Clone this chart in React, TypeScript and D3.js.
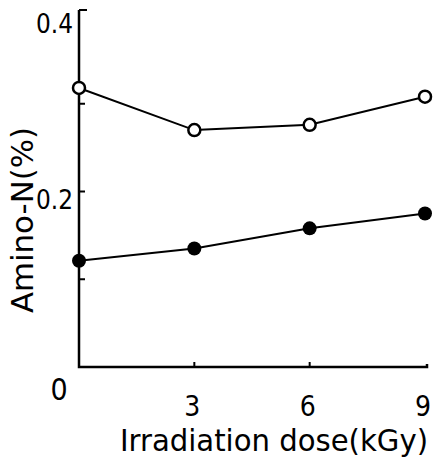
import React from "react";
import * as d3 from "d3";

const doses = [0, 3, 6, 9];
const openSeries = [0.318, 0.27, 0.276, 0.308];
const filledSeries = [0.121, 0.135, 0.158, 0.175];
const yTickLabels = ["0.2", "0.4"];
const yTickValues = [0.2, 0.4];
const yMinorTicks = [0.1, 0.3];
const xTickValues = [3, 6, 9];
const xTitle = "Irradiation dose(kGy)";
const yTitle = "Amino-N(%)";

const W = 434;
const H = 461;
const FONT = "'DejaVu Sans Condensed', 'DejaVu Sans', sans-serif";

export default function App() {
  const x = d3.scaleLinear().domain([0, 9]).range([79, 425]);
  const y = d3.scaleLinear().domain([0, 0.4]).range([367, 16]);
  const line = d3
    .line<number>()
    .x((_, i) => x(doses[i]))
    .y((d) => y(d));

  return (
    <svg
      width={W}
      height={H}
      style={{ position: "absolute", left: 0, top: 0, background: "#fff" }}
    >
      {/* axes */}
      <path
        d={`M${x(0)},${y(0.4) - 6} L${x(0)},${y(0)} L${x(9) + 2},${y(0)} L${x(9) + 2},${y(0) - 3}`}
        fill="none"
        stroke="#000"
        strokeWidth={2.5}
      />
      <line x1={x(0)} x2={x(0) + 8} y1={y(0.4) - 6} y2={y(0.4) - 6} stroke="#000" strokeWidth={2} />
      {[...yTickValues.slice(0, 1), ...yMinorTicks].map((v) => (
        <line key={v} x1={x(0)} x2={x(0) + 6} y1={y(v)} y2={y(v)} stroke="#000" strokeWidth={2} />
      ))}
      {xTickValues.slice(0, 2).map((v) => (
        <line key={v} x1={x(v)} x2={x(v)} y1={y(0)} y2={y(0) - 5} stroke="#000" strokeWidth={2} />
      ))}

      {/* y tick labels */}
      {yTickValues.map((v, i) => (
        <text
          key={v}
          x={73}
          y={y(v) + 17}
          textAnchor="end"
          fontFamily={FONT}
          fontSize={27}
          textLength={37}
          lengthAdjust="spacingAndGlyphs"
        >
          {yTickLabels[i]}
        </text>
      ))}
      <text x={59} y={400} textAnchor="middle" fontFamily={FONT} fontSize={30}>
        0
      </text>

      {/* x tick labels */}
      {xTickValues.map((v) => (
        <text key={v} x={x(v) - 2} y={416} textAnchor="middle" fontFamily={FONT} fontSize={28}>
          {v}
        </text>
      ))}

      {/* titles */}
      <text
        x={120}
        y={451}
        fontFamily={FONT}
        fontSize={31}
        textLength={308}
        lengthAdjust="spacingAndGlyphs"
      >
        {xTitle}
      </text>
      <text
        transform="translate(33,220) rotate(-90)"
        textAnchor="middle"
        fontFamily={FONT}
        fontSize={30}
        textLength={186}
        lengthAdjust="spacingAndGlyphs"
      >
        {yTitle}
      </text>

      {/* series */}
      <path d={line(openSeries) || ""} fill="none" stroke="#000" strokeWidth={2} />
      <path d={line(filledSeries) || ""} fill="none" stroke="#000" strokeWidth={2} />
      {openSeries.map((v, i) => (
        <circle key={"o" + i} cx={x(doses[i])} cy={y(v)} r={6} fill="#fff" stroke="#000" strokeWidth={2.5} />
      ))}
      {filledSeries.map((v, i) => (
        <circle key={"f" + i} cx={x(doses[i])} cy={y(v)} r={7} fill="#000" />
      ))}
    </svg>
  );
}
